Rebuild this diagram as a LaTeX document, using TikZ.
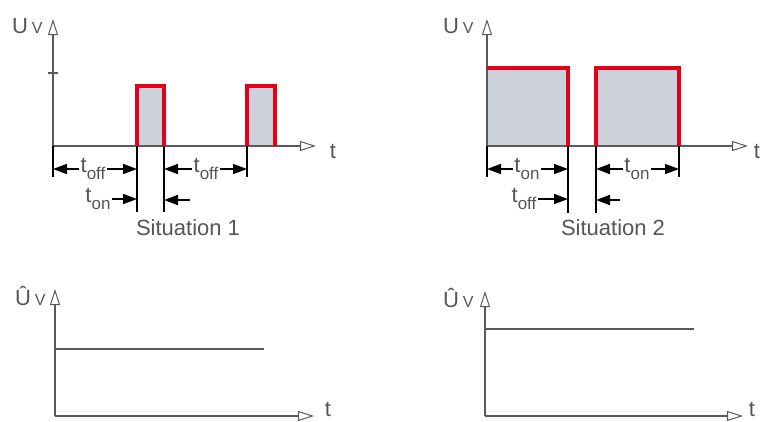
\documentclass[tikz,border=0pt]{standalone}
\usepackage{fontspec}
\setmainfont{Liberation Sans}
\usetikzlibrary{arrows.meta}
\definecolor{axisgray}{RGB}{90,90,90}
\definecolor{txtgray}{RGB}{85,85,85}
\definecolor{pulsered}{RGB}{226,0,26}
\definecolor{pulsefill}{RGB}{205,210,218}
\newcommand{\lblsub}[2]{#1\raisebox{-0.3em}{\fontsize{17}{17}\selectfont #2}}
\tikzset{
  axis/.style={draw=axisgray, line width=1.1pt, -{Triangle[open, length=16pt, width=10pt, line width=1pt]}},
  extline/.style={draw=black, line width=1.3pt},
  dimarrow/.style={draw=black, line width=1.6pt, -{Triangle[length=14pt, width=10pt]}},
  pulse/.style={draw=pulsered, line width=3.6pt, line join=miter},
  pulsebg/.style={fill=pulsefill, draw=none},
  lbl/.style={text=txtgray, font=\fontsize{22}{22}\selectfont, inner sep=1pt},
  ylbl/.style={text=txtgray, font=\fontsize{22}{22}\selectfont, inner sep=0pt, anchor=base west},
  level/.style={draw=axisgray, line width=1.1pt},
}
\begin{document}
\begin{tikzpicture}[x=1pt,y=-1pt]
\useasboundingbox (0,0) rectangle (764,421);

% ===================== Situation 1 =====================
\coordinate (o1) at (53,146);
\coordinate (y1) at (53,19);
\coordinate (x1) at (316,146);
\fill[pulsebg] (137,146) rectangle (164,86);
\fill[pulsebg] (247,146) rectangle (275,86);
\draw[axis] (o1) -- (y1);
\draw[axis] (o1) -- (x1);
\draw[draw=axisgray, line width=1.1pt] (48,73) -- (58,73);
\draw[pulse] (137,146) -- (137,86) -- (164,86) -- (164,146);
\draw[pulse] (247,146) -- (247,86) -- (275,86) -- (275,146);
\coordinate (e1a) at (53,177);
\coordinate (e1b) at (137,212);
\coordinate (e1c) at (164,212);
\coordinate (e1d) at (247,177);
\draw[extline] (o1) -- (e1a);
\draw[extline] (137,146) -- (e1b);
\draw[extline] (164,146) -- (e1c);
\draw[extline] (247,146) -- (e1d);
\node[ylbl] (uv1) at (12,33) {U\,{\fontsize{16}{16}\selectfont V}};
\node[lbl] (t1) at (333,151) {t};
\node[lbl] (toff1) at (93,169) {\lblsub{t}{off}};
\draw[dimarrow] (toff1.west) -- (toff1.west -| e1a);
\draw[dimarrow] (toff1.east) -- (toff1.east -| e1b);
\node[lbl] (toff2) at (206,169) {\lblsub{t}{off}};
\draw[dimarrow] (toff2.west) -- (toff2.west -| e1c);
\draw[dimarrow] (toff2.east) -- (toff2.east -| e1d);
\node[lbl] (ton1) at (98,199) {\lblsub{t}{on}};
\draw[dimarrow] (ton1.east) -- (ton1.east -| e1b);
\coordinate (f1) at (190,200);
\draw[dimarrow] (f1) -- (f1 -| e1c);
\node[lbl] (sit1) at (188,228) {Situation 1};

% ===================== Situation 2 =====================
\coordinate (o2) at (487,146);
\coordinate (y2) at (487,19);
\coordinate (x2) at (748,146);
\fill[pulsebg] (487,146) rectangle (568,68);
\fill[pulsebg] (596,146) rectangle (679,68);
\draw[axis] (o2) -- (y2);
\draw[axis] (o2) -- (x2);
\draw[pulse] (487,68) -- (568,68) -- (568,146);
\draw[pulse] (596,146) -- (596,68) -- (679,68) -- (679,146);
\coordinate (e2a) at (487,177);
\coordinate (e2b) at (568,213);
\coordinate (e2c) at (596,213);
\coordinate (e2d) at (679,177);
\draw[extline] (o2) -- (e2a);
\draw[extline] (568,146) -- (e2b);
\draw[extline] (596,146) -- (e2c);
\draw[extline] (679,146) -- (e2d);
\node[ylbl] (uv2) at (443,33) {U\,{\fontsize{16}{16}\selectfont V}};
\node[lbl] (t2) at (757,151) {t};
\node[lbl] (ton2) at (527,169) {\lblsub{t}{on}};
\draw[dimarrow] (ton2.west) -- (ton2.west -| e2a);
\draw[dimarrow] (ton2.east) -- (ton2.east -| e2b);
\node[lbl] (ton3) at (637,169) {\lblsub{t}{on}};
\draw[dimarrow] (ton3.west) -- (ton3.west -| e2c);
\draw[dimarrow] (ton3.east) -- (ton3.east -| e2d);
\node[lbl] (toff3) at (524,199) {\lblsub{t}{off}};
\draw[dimarrow] (toff3.east) -- (toff3.east -| e2b);
\coordinate (f2) at (620,200);
\draw[dimarrow] (f2) -- (f2 -| e2c);
\node[lbl] (sit2) at (613,228) {Situation 2};

% ===================== Mean voltage 1 =====================
\coordinate (o3) at (55,416);
\coordinate (y3) at (55,289);
\coordinate (x3) at (314,416);
\coordinate (m3) at (264,349);
\draw[axis] (o3) -- (y3);
\draw[axis] (o3) -- (x3);
\draw[level] (o3 |- m3) -- (m3);
\node[ylbl] (uv3) at (15,305) {Û\,{\fontsize{16}{16}\selectfont V}};
\node[lbl] (t3) at (328,409) {t};

% ===================== Mean voltage 2 =====================
\coordinate (o4) at (485,416);
\coordinate (y4) at (485,291);
\coordinate (x4) at (743,416);
\coordinate (m4) at (694,329);
\draw[axis] (o4) -- (y4);
\draw[axis] (o4) -- (x4);
\draw[level] (o4 |- m4) -- (m4);
\node[ylbl] (uv4) at (443,307) {Û\,{\fontsize{16}{16}\selectfont V}};
\node[lbl] (t4) at (752,409) {t};
\end{tikzpicture}
\end{document}
